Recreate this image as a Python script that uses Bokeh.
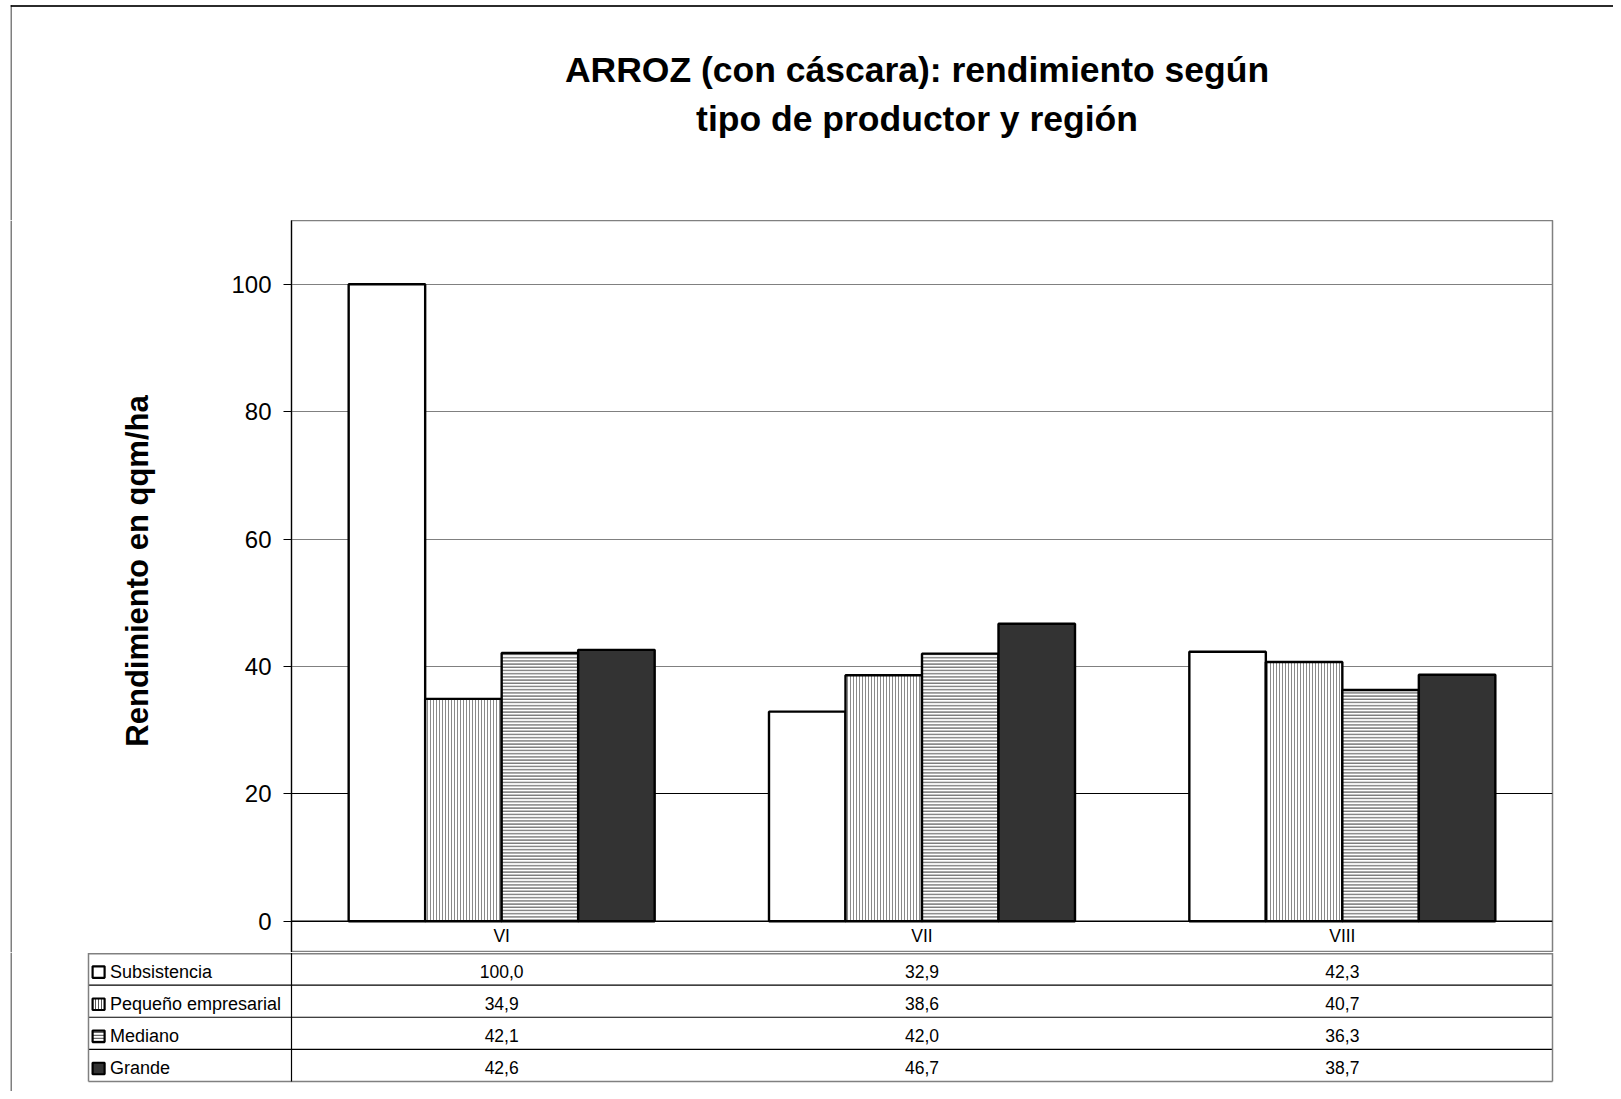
import math
from bokeh.plotting import figure
from bokeh.layouts import column, row
from bokeh.models import FactorRange, Range1d, FixedTicker, Span, Grid
from bokeh.transform import dodge
from bokeh.core.properties import value
from bokeh.embed import file_html
from bokeh.resources import INLINE

# ---------------- data ----------------
regions = ["VI", "VII", "VIII"]
series_names = ["Subsistencia", "Pequeño empresarial", "Mediano", "Grande"]
subsistencia = [100.0, 32.9, 42.3]
pequeno_empresarial = [34.9, 38.6, 40.7]
mediano = [42.1, 42.0, 36.3]
grande = [42.6, 46.7, 38.7]
y_ticks = [0, 20, 40, 60, 80, 100]
title_lines = ["ARROZ (con cáscara): rendimiento según", "tipo de productor y región"]
y_label = "Rendimiento en qqm/ha"

series = [subsistencia, pequeno_empresarial, mediano, grande]

FONT = "Liberation Sans"
GREY = "#808080"

# ---------------- page geometry (px) ----------------
W = 1613
TOP_H = 220          # title strip
MID_H = 732          # chart strip (220 .. 952)
TBL_H = 139          # table strip (952 .. 1091)
LEFT_W = 200         # left strip holding the axis title
FRAME_L = 291        # plot area left (page)
FRAME_R = 1552       # plot area right (page)
FRAME_W = FRAME_R - FRAME_L
CAT_PX = FRAME_W / len(regions)
ZERO_FROM_BOTTOM = 31.3   # zero line above the chart strip bottom
Y_TOP = 110
UNIT_PX = (MID_H - ZERO_FROM_BOTTOM) / Y_TOP
Y_MIN = -ZERO_FROM_BOTTOM / UNIT_PX

def common(fig):
    fig.outline_line_color = None
    fig.xgrid.grid_line_color = None
    fig.ygrid.grid_line_color = None
    fig.background_fill_color = "white"
    fig.border_fill_color = "white"
    return fig

# ---------------- title strip ----------------
tf = figure(width=W, height=TOP_H, x_range=Range1d(10, W), y_range=Range1d(TOP_H, 4),
            x_axis_location=None, y_axis_location=None, output_backend="svg",
            toolbar_location=None, min_border_left=10, min_border_right=0,
            min_border_top=4, min_border_bottom=0)
common(tf)
tf.quad(left=[10], right=[W], top=[4.5], bottom=[6.5], fill_color="#2b2b2b", line_color=None)
tf.quad(left=[10], right=[11], top=[4.5], bottom=[TOP_H], fill_color="black", line_color=None)
tf.text(x=[916.5, 916.5], y=[69.5, 118.5], text=title_lines, text_align="center",
        text_baseline="middle", text_font=value(FONT), text_font_style="bold",
        text_font_size="35.5px", text_color="black")

# ---------------- left strip (axis title) ----------------
lf = figure(width=LEFT_W, height=MID_H, x_range=Range1d(10, LEFT_W),
            y_range=Range1d(TOP_H + MID_H, TOP_H), x_axis_location=None,
            y_axis_location=None, output_backend="svg", toolbar_location=None,
            min_border_left=10, min_border_right=0, min_border_top=0, min_border_bottom=0)
common(lf)
lf.quad(left=[10], right=[11], top=[TOP_H], bottom=[TOP_H + MID_H], fill_color="black",
        line_color=None)
lf.text(x=[136.5], y=[570.5], text=[y_label], angle=math.pi / 2, text_align="center",
        text_baseline="middle", text_font=value(FONT), text_font_style="bold",
        text_font_size="31px", text_color="black")

# ---------------- main chart ----------------
p = figure(width=W - LEFT_W, height=MID_H, x_range=FactorRange(*regions),
           y_range=Range1d(Y_MIN, Y_TOP), x_axis_location=None, output_backend="svg",
           toolbar_location=None, min_border_left=FRAME_L - LEFT_W,
           min_border_right=W - FRAME_R, min_border_top=0, min_border_bottom=0)
p.background_fill_color = "white"
p.border_fill_color = "white"
p.outline_line_color = GREY
p.outline_line_width = 1.5
p.xgrid.grid_line_color = None
p.ygrid.ticker = FixedTicker(ticks=y_ticks)
p.ygrid.grid_line_color = GREY
p.ygrid.grid_line_width = 1
# the lowest inner gridline renders crisp black in the original
p.add_layout(Grid(dimension=1, ticker=FixedTicker(ticks=[y_ticks[1]]),
                  grid_line_color="black", grid_line_width=1))

p.yaxis.ticker = FixedTicker(ticks=y_ticks)
p.yaxis.major_label_text_font = FONT
p.yaxis.major_label_text_font_size = "24px"
p.yaxis.major_label_text_color = "black"
p.yaxis.major_tick_out = 8
p.yaxis.major_tick_in = 0
p.yaxis.minor_tick_line_color = None
p.yaxis.major_label_standoff = 12
p.yaxis.axis_line_color = "black"
p.yaxis.axis_line_width = 1.2
p.yaxis.major_tick_line_color = "black"

bar_w = 0.182
offsets = [-1.5 * bar_w, -0.5 * bar_w, 0.5 * bar_w, 1.5 * bar_w]
styles = [
    dict(fill_color="white"),
    dict(fill_color="white", hatch_pattern="vertical_line", hatch_color="#8a8a8a",
         hatch_scale=3, hatch_weight=1),
    dict(fill_color="white", hatch_pattern="horizontal_line", hatch_color="#7a7a7a",
         hatch_scale=3.2, hatch_weight=1.6),
    dict(fill_color="#333333"),
]
src = {"region": regions}
for i, vals in enumerate(series):
    src["s%d" % i] = vals
for i in range(len(series)):
    p.vbar(x=dodge("region", offsets[i], range=p.x_range), top="s%d" % i, width=bar_w,
           source=src, line_color="black", line_width=2.4, **styles[i])

p.add_layout(Span(location=0, dimension="width", line_color="black", line_width=1.5))

# category names (row under the zero line)
p.text(x=regions, y=[-15.0 / UNIT_PX] * len(regions), text=regions, text_align="center",
       text_baseline="middle", text_font=value(FONT), text_font_size="17.5px",
       text_color="black")

# ---------------- data table strip ----------------
ROW_PX = 32.125
TBL_TOP = 952.5
def cx(px):
    return (px - FRAME_L) / CAT_PX
def ry(px):
    return (px - TBL_TOP) / ROW_PX

tb = figure(width=W, height=TBL_H, x_range=Range1d(cx(10), cx(W)),
            y_range=Range1d(ry(TOP_H + MID_H + TBL_H), ry(TOP_H + MID_H)),
            x_axis_location=None, y_axis_location=None, output_backend="svg",
            toolbar_location=None, min_border_left=10, min_border_right=0,
            min_border_top=0, min_border_bottom=0)
common(tb)
nrows = len(series_names)
TL = cx(88)
# outer chart border
tb.quad(left=[cx(10)], right=[cx(11)], top=[ry(TOP_H + MID_H)],
        bottom=[ry(TOP_H + MID_H + TBL_H)], fill_color="black", line_color=None)
# inner row separators
tb.segment(x0=[TL] * (nrows - 1), x1=[len(regions)] * (nrows - 1),
           y0=list(range(1, nrows)), y1=list(range(1, nrows)), line_color="black",
           line_width=1.2)
# grey table frame
tb.segment(x0=[TL, TL, TL, len(regions)], x1=[len(regions), len(regions), TL, len(regions)],
           y0=[0.02, nrows, 0, 0], y1=[0.02, nrows, nrows, nrows], line_color=GREY,
           line_width=1.5)
# black separator continuing the value axis
tb.segment(x0=[0], x1=[0], y0=[0], y1=[nrows], line_color="black", line_width=1.2)

key_styles = [
    dict(fill_color="white"),
    dict(fill_color="white", hatch_pattern="vertical_line", hatch_color="#555555",
         hatch_scale=3, hatch_weight=1),
    dict(fill_color="white", hatch_pattern="horizontal_line", hatch_color="#6a6a6a",
         hatch_scale=3, hatch_weight=1.5),
    dict(fill_color="#333333"),
]
rows_idx = list(range(nrows))
for i in rows_idx:
    tb.rect(x=[cx(98.1)], y=[i + ry(971.6)], width=12, height=11.5,
            width_units="screen", height_units="screen", line_color="black",
            line_width=2.2, **key_styles[i])
tb.text(x=[cx(109.5)] * nrows, y=[i + ry(971.0) for i in rows_idx], text=series_names,
        text_align="left", text_baseline="middle", text_font=value(FONT),
        text_font_size="18px", text_color="black")

fmt = lambda v: ("%.1f" % v).replace(".", ",")
vx, vy, vt = [], [], []
for i, vals in enumerate(series):
    for j, v in enumerate(vals):
        vx.append(j + 0.5)
        vy.append(i + ry(970.8))
        vt.append(fmt(v))
tb.text(x=vx, y=vy, text=vt, text_align="center", text_baseline="middle",
        text_font=value(FONT), text_font_size="17.5px", text_color="black")

layout = column(tf, row(lf, p), tb)
open("out.html", "w").write(file_html(layout, INLINE))
